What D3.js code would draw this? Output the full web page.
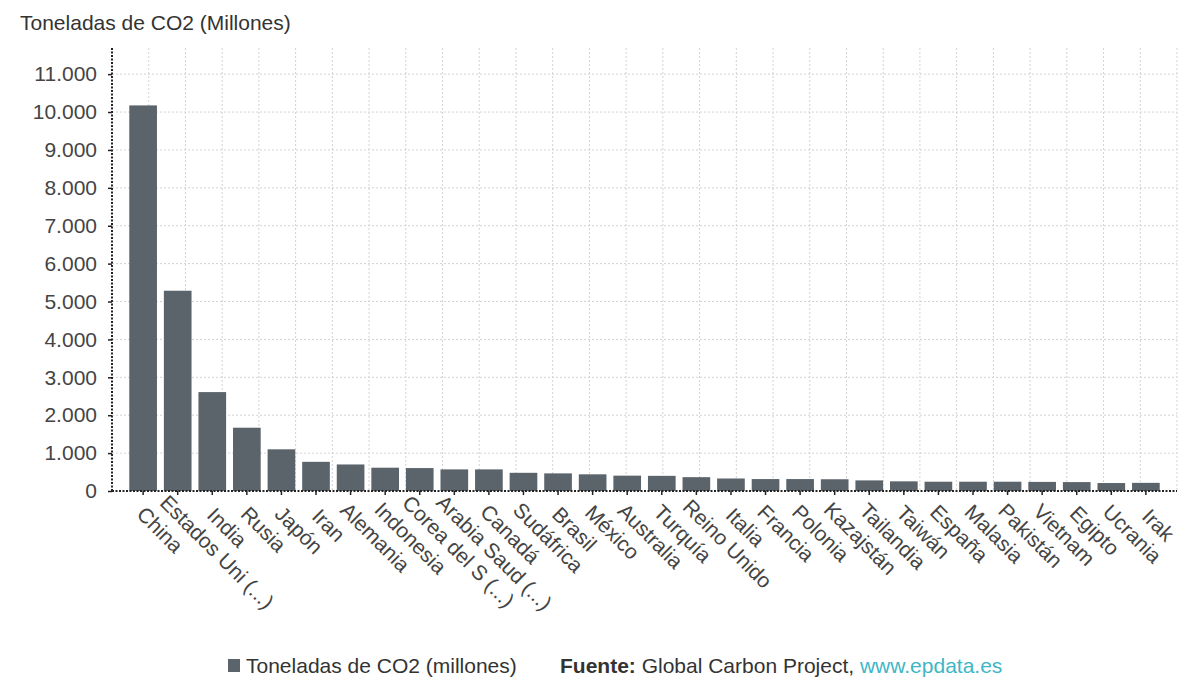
<!DOCTYPE html>
<html lang="es">
<head>
<meta charset="utf-8">
<title>Toneladas de CO2 (Millones)</title>
<script src="https://cdn.jsdelivr.net/npm/d3@7"></script>
<style>
  body { margin: 0; background: #fff; }
  svg { display: block; font-family: "Liberation Sans", Arial, sans-serif; }
</style>
</head>
<body>
<script>
// datos
var paises = ["China", "Estados Uni (...)", "India", "Rusia", "Japón", "Iran", "Alemania",
              "Indonesia", "Corea del S (...)", "Arabia Saud (...)", "Canadá", "Sudáfrica",
              "Brasil", "México", "Australia", "Turquía", "Reino Unido", "Italia", "Francia",
              "Polonia", "Kazajstán", "Tailandia", "Taiwán", "España", "Malasia", "Pakistán",
              "Vietnam", "Egipto", "Ucrania", "Irak"];
var toneladas = [10175, 5285, 2610, 1670, 1100, 770, 700, 615, 605, 570, 570, 480,
                 465, 440, 405, 400, 365, 330, 315, 315, 310, 280, 255, 245, 245, 245,
                 240, 235, 210, 215];
var yTicks = [0, 1000, 2000, 3000, 4000, 5000, 6000, 7000, 8000, 9000, 10000, 11000];
var serie = "Toneladas de CO2 (millones)";

var w = 1200, h = 694;
var plotLeft = 112, plotRight = 1177, plotTop = 48, plotBottom = 491;
var barColor = "#5b636b";
var fs = "21px";

var es = d3.formatLocale({ decimal: ",", thousands: ".", grouping: [3], currency: ["", ""] });
var fmt = es.format(",d");

var svg = d3.select("body").append("svg")
  .attr("width", w)
  .attr("height", h);

var x = d3.scaleBand()
  .domain(paises)
  .range([plotLeft, plotRight])
  .paddingInner(0.2)
  .paddingOuter(0.5);

var y = d3.scaleLinear()
  .domain([0, 11690])
  .range([plotBottom, plotTop]);

// rejilla vertical (29 divisiones, independiente de las barras)
var xGrid = d3.scaleLinear().domain([0, 29]).range([plotLeft, plotRight]);
svg.append("g")
  .selectAll("line")
  .data(d3.range(1, 30))
  .enter()
  .append("line")
  .attr("x1", function(d) { return xGrid(d); })
  .attr("x2", function(d) { return xGrid(d); })
  .attr("y1", plotTop)
  .attr("y2", plotBottom)
  .attr("stroke", "#d2d2d2")
  .attr("stroke-dasharray", "2,2");

// rejilla horizontal
svg.append("g")
  .selectAll("line")
  .data(yTicks.slice(1))
  .enter()
  .append("line")
  .attr("x1", plotLeft)
  .attr("x2", plotRight)
  .attr("y1", function(d) { return y(d); })
  .attr("y2", function(d) { return y(d); })
  .attr("stroke", "#d2d2d2")
  .attr("stroke-dasharray", "2,2");

// barras
svg.append("g")
  .selectAll("rect")
  .data(toneladas)
  .enter()
  .append("rect")
  .attr("x", function(d, i) { return x(paises[i]); })
  .attr("y", function(d) { return y(d); })
  .attr("width", x.bandwidth())
  .attr("height", function(d) { return plotBottom - y(d); })
  .attr("fill", barColor);

// eje Y
var yAxis = svg.append("g")
  .attr("transform", "translate(" + plotLeft + ",0)")
  .call(d3.axisLeft(y).tickValues(yTicks).tickFormat(fmt).tickSize(4).tickPadding(11));
yAxis.select(".domain").remove();
yAxis.selectAll(".tick line").attr("stroke", "#222").attr("stroke-width", 1.5);
yAxis.selectAll(".tick text")
  .attr("font-size", fs)
  .attr("font-family", "Liberation Sans, Arial, sans-serif")
  .attr("fill", "#444");
svg.append("line")
  .attr("x1", plotLeft).attr("x2", plotLeft)
  .attr("y1", plotTop).attr("y2", plotBottom)
  .attr("stroke", "#222")
  .attr("stroke-width", 2)
  .attr("stroke-dasharray", "2,1.5");

// eje X
var xAxis = svg.append("g")
  .attr("transform", "translate(0," + plotBottom + ")")
  .call(d3.axisBottom(x).tickSize(4).tickFormat(""));
xAxis.select(".domain").remove();
xAxis.selectAll(".tick line").attr("stroke", "#222").attr("stroke-width", 1.5);
svg.append("line")
  .attr("x1", plotLeft).attr("x2", plotRight)
  .attr("y1", plotBottom).attr("y2", plotBottom)
  .attr("stroke", "#222")
  .attr("stroke-width", 2)
  .attr("stroke-dasharray", "2,1.5");

// etiquetas giradas
svg.append("g")
  .selectAll("text")
  .data(paises)
  .enter()
  .append("text")
  .text(function(d) { return d; })
  .attr("font-size", fs)
  .attr("fill", "#444")
  .attr("text-anchor", "start")
  .each(function(d) {
    var L = this.getComputedTextLength();
    var cx = x(d) + x.bandwidth() / 2;
    var x0 = cx - 1 - 0.12 * L;
    var y0 = 522 - 0.12 * L;
    d3.select(this).attr("transform", "translate(" + x0 + "," + y0 + ") rotate(45)");
  });

// titulo
svg.append("text")
  .attr("x", 20)
  .attr("y", 30)
  .attr("font-size", fs)
  .attr("fill", "#333")
  .text("Toneladas de CO2 (Millones)");

// leyenda y fuente
svg.append("rect")
  .attr("x", 228)
  .attr("y", 659)
  .attr("width", 12)
  .attr("height", 13)
  .attr("fill", barColor);
svg.append("text")
  .attr("x", 246)
  .attr("y", 673)
  .attr("font-size", fs)
  .attr("fill", "#333")
  .text(serie);

var fuente = svg.append("text")
  .attr("x", 560)
  .attr("y", 673)
  .attr("font-size", fs)
  .attr("fill", "#333");
fuente.append("tspan").attr("font-weight", "bold").text("Fuente:");
fuente.append("tspan").text(" Global Carbon Project, ");
fuente.append("tspan").attr("fill", "#3fb6c6").text("www.epdata.es");
</script>
</body>
</html>
